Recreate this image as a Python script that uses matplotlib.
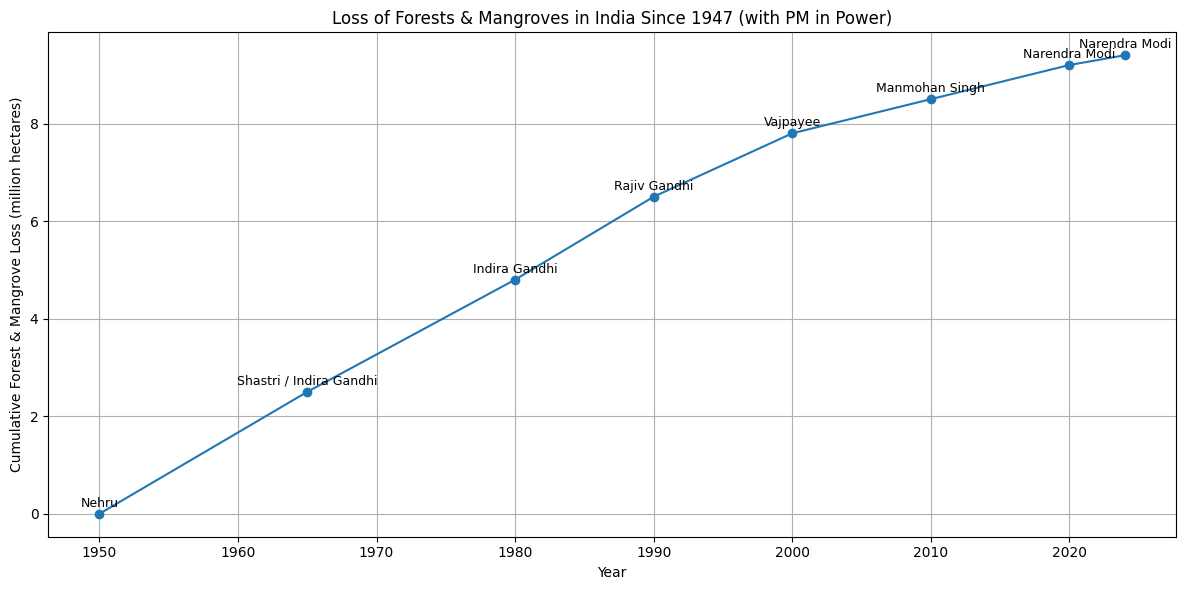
import matplotlib.pyplot as plt

# Data
years = [1950, 1965, 1980, 1990, 2000, 2010, 2020, 2024]
forest_loss = [0.0, 2.5, 4.8, 6.5, 7.8, 8.5, 9.2, 9.4]
pms = ["Nehru", "Shastri / Indira Gandhi", "Indira Gandhi", "Rajiv Gandhi",
       "Vajpayee", "Manmohan Singh", "Narendra Modi", "Narendra Modi"]

# Plot
plt.figure(figsize=(12, 6), dpi=100)
plt.plot(years, forest_loss, marker='o', linestyle='-', color='#1f77b4')

for x, y, name in zip(years, forest_loss, pms):
    plt.annotate(name, (x, y), textcoords="offset points", xytext=(0, 5),
                 ha='center', fontsize=9)

# Labels and styling
plt.xlabel("Year")
plt.ylabel("Cumulative Forest & Mangrove Loss (million hectares)")
plt.title("Loss of Forests & Mangroves in India Since 1947 (with PM in Power)")
plt.grid(True)
plt.tight_layout()

plt.savefig("out.png", dpi=100, bbox_inches='tight')
